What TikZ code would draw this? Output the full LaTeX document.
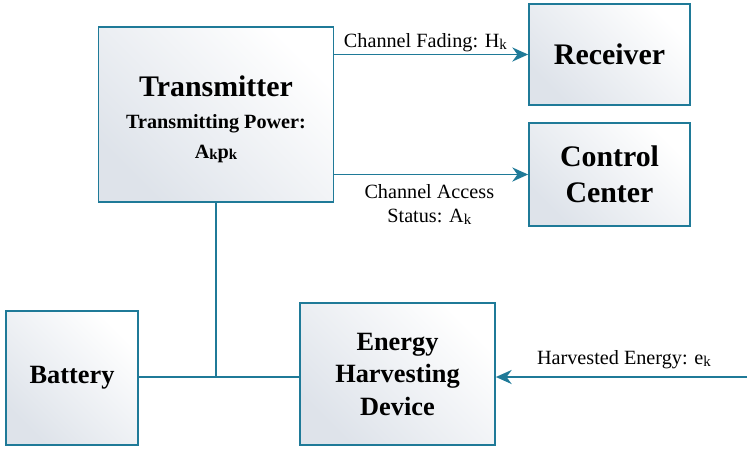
\documentclass[tikz,border=0pt]{standalone}
\usepackage{fontspec}
\setmainfont{Liberation Serif}
\usetikzlibrary{positioning,arrows.meta}
\definecolor{linkblue}{RGB}{31,122,152}
\definecolor{boxgray}{RGB}{222,227,234}
\newcommand{\subk}[1]{\raisebox{-0.2ex}{\fontsize{8.5}{9}\selectfont #1}}
\tikzset{
  blk/.style={draw=linkblue,line width=1pt,shading=axis,top color=boxgray,bottom color=white,shading angle=135,inner sep=0pt,align=center,font=\bfseries},
  big/.style={font=\fontsize{17}{20.5}\selectfont\bfseries},
  mid/.style={font=\fontsize{15}{18.5}\selectfont\bfseries},
  lnk/.style={draw=linkblue,line width=1.1pt},
  arr/.style={lnk,-{Stealth[length=9pt,width=8pt]}},
  lbl/.style={font=\fontsize{11.5}{14}\selectfont,inner sep=1pt,align=center}
}

\begin{document}
\begin{tikzpicture}[x=0.02cm,y=-0.02cm]
  \useasboundingbox (0,0) rectangle (753,454);
  % blocks
  \node[blk,minimum width=4.70cm,minimum height=3.50cm] (tx) at (216,114.5)
    {{\fontsize{17}{20}\selectfont\rule{0pt}{17pt}Transmitter}\\[6pt]
     {\fontsize{11.5}{13}\selectfont Transmitting Power:}\\[5pt]
     {\fontsize{11.5}{13}\selectfont A\subk{k}p\subk{k}}};
  \node[blk,big,minimum width=3.22cm,minimum height=2.02cm] (rx) at (609.5,54.5) {Receiver};
  \node[blk,big,minimum width=3.22cm,minimum height=2.06cm] (cc) at (609.5,174.5) {Control\\Center};
  \node[blk,mid,minimum width=2.64cm,minimum height=2.68cm] (bat) at (72,378) {Battery};
  \node[blk,mid,minimum width=3.90cm,minimum height=2.84cm] (ehd) at (397.5,374) {Energy\\Harvesting\\Device};
  % links
  \draw[arr] (tx.east |- rx.west) -- node[lbl,above,pos=0.47] (fade) {Channel Fading: H\subk{k}} (rx.west);
  \draw[arr] (tx.east |- cc.west) -- node[lbl,below=4pt,pos=0.49] (acc) {Channel Access\\Status: A\subk{k}} (cc.west);
  \coordinate (j) at (tx.south |- 0,377);
  \draw[lnk] (tx.south) -- (j);
  \draw[lnk] (bat.east |- j) -- (ehd.west |- j);
  \coordinate (src) at (747,377);
  \draw[arr] (src) -- node[lbl,above=3pt,pos=0.49] (harv) {Harvested Energy: e\subk{k}} (ehd.east |- src);
\end{tikzpicture}
\end{document}
